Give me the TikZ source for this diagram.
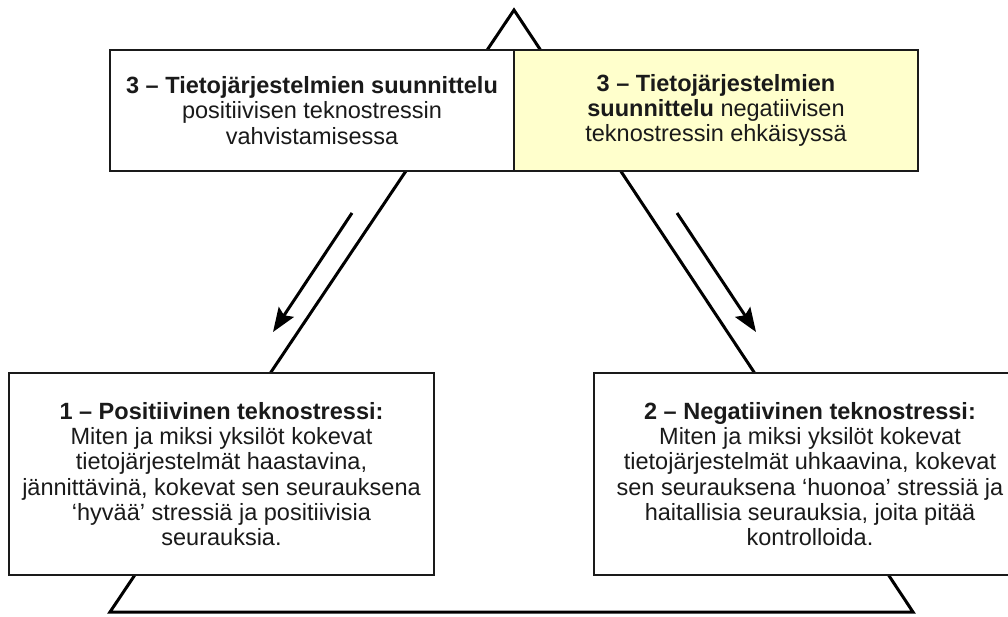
\documentclass[tikz,border=0pt]{standalone}
\usepackage{fontspec}
\setmainfont{Liberation Sans}
\usetikzlibrary{arrows.meta}
\definecolor{noteyellow}{HTML}{FFFFCC}
\definecolor{inkgray}{HTML}{1A1A1A}
\begin{document}
\begin{tikzpicture}[x=1pt,y=-1pt,
  textbox/.style={draw=inkgray, line width=2pt, fill=white, inner sep=0pt,
    align=center, text=inkgray, font=\fontsize{23.5}{25.2}\selectfont},
  topbox/.style={textbox, minimum width=404pt, minimum height=121pt},
  lowbox/.style={textbox, minimum height=202pt},
  frame/.style={draw=black, line width=3pt},
  flow/.style={draw=black, line width=3pt,
    -{Stealth[length=24pt,width=18pt,inset=4pt]}}]
\path[use as bounding box] (0,0) rectangle (1008,617);
\clip (0,0) rectangle (1008,617);

% the triangle behind the boxes
\coordinate (apex) at (514,10);
\coordinate (baseL) at (110,612);
\coordinate (baseR) at (913,612);
\draw[frame] (baseL) -- (apex) -- (baseR) -- cycle;

% design boxes at the top
\node[topbox] (designpos) at (312,110.5)
  {\textbf{3 – Tietojärjestelmien suunnittelu}\\
   positiivisen teknostressin\\
   vahvistamisessa};
\node[topbox, fill=noteyellow] (designneg) at (716,110.5)
  {\textbf{3 – Tietojärjestelmien}\\
   \textbf{suunnittelu} negatiivisen\\
   teknostressin ehkäisyssä};

% stress boxes at the bottom corners
\node[lowbox, minimum width=425pt] (positive) at (221.5,474)
  {\textbf{1 – Positiivinen teknostressi:}\\
   Miten ja miksi yksilöt kokevat\\
   tietojärjestelmät haastavina,\\
   jännittävinä, kokevat sen seurauksena\\
   ‘hyvää’ stressiä ja positiivisia\\
   seurauksia.};
\node[lowbox, minimum width=432pt] (negative) at (810,474)
  {\textbf{2 – Negatiivinen teknostressi:}\\
   Miten ja miksi yksilöt kokevat\\
   tietojärjestelmät uhkaavina, kokevat\\
   sen seurauksena ‘huonoa’ stressiä ja\\
   haitallisia seurauksia, joita pitää\\
   kontrolloida.};

% arrows running down the sides
\coordinate (leftfrom) at (352,213);
\coordinate (leftto) at (273,332);
\coordinate (rightfrom) at (677,213);
\coordinate (rightto) at (756,332);
\draw[flow] (leftfrom) -- (leftto);
\draw[flow] (rightfrom) -- (rightto);
\end{tikzpicture}
\end{document}
